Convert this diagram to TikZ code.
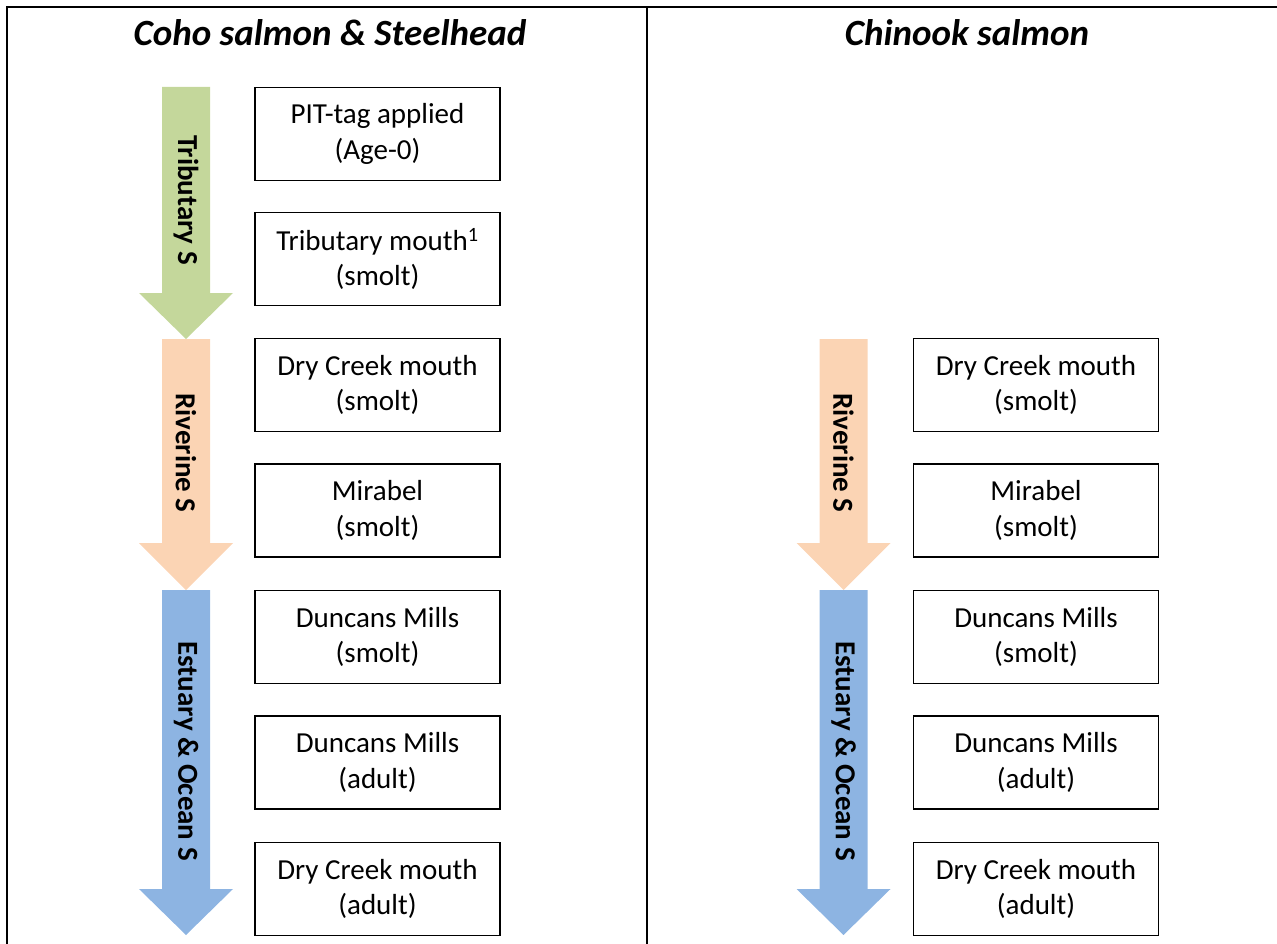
\documentclass[tikz,border=0pt]{standalone}
\usepackage{fontspec}
\setmainfont{Carlito}
\usepackage{tikz}
\usetikzlibrary{calc}

\definecolor{tribgreen}{RGB}{196,215,155}
\definecolor{rivorange}{RGB}{251,212,180}
\definecolor{estblue}{RGB}{141,180,226}

% down arrow: #1 centre x, #2 top, #3 head start, #4 tip, #5 colour
\newcommand{\stagearrow}[5]{%
  \fill[#5] ({#1-24},#2) -- ({#1+24},#2) -- ({#1+24},#3) -- ({#1+47},#3)
    -- (#1,#4) -- ({#1-47},#3) -- ({#1-24},#3) -- cycle;}

\tikzset{
  sitebox/.style={draw, line width=1.3pt, minimum width=245pt, minimum height=93pt,
    align=center, inner sep=2pt, font=\fontsize{29}{35.6}\selectfont},
  stagelabel/.style={rotate=-90, font=\fontsize{29}{35.4}\selectfont\bfseries},
  header/.style={font=\fontsize{37}{44}\selectfont\bfseries\itshape}
}

\begin{document}
\begin{tikzpicture}[x=1pt,y=-1pt]
\useasboundingbox (0,0) rectangle (1277,944);

% frame
\draw[line width=2pt] (1277,7) -- (7,7) -- (7,944);
\draw[line width=2pt] (647,7) -- (647,944);

\node[header] (cohohead) at (330,33) {Coho salmon \& Steelhead};
\node[header] (chinhead) at (967,33) {Chinook salmon};

% Coho salmon & Steelhead
\stagearrow{186}{87}{293}{339}{tribgreen}
\stagearrow{186}{339}{543}{590}{rivorange}
\stagearrow{186}{590}{889}{935}{estblue}
\node[stagelabel] (cohotrib) at (186,200) {Tributary S};
\node[stagelabel] (cohoriv) at (186,453) {Riverine S};
\node[stagelabel] (cohoest) at (186,751) {Estuary \& Ocean S};

\node[sitebox] (cohotag) at (377.5,134) {PIT-tag applied\\(Age-0)};
\node[sitebox] (cohotribm) at (377.5,259) {Tributary mouth\textsuperscript{1}\\(smolt)};
\node[sitebox] (cohodry) at (377.5,385) {Dry Creek mouth\\(smolt)};
\node[sitebox] (cohomir) at (377.5,510.5) {Mirabel\\(smolt)};
\node[sitebox] (cohodunj) at (377.5,637) {Duncans Mills\\(smolt)};
\node[sitebox] (cohoduna) at (377.5,762.5) {Duncans Mills\\(adult)};
\node[sitebox] (cohodrya) at (377.5,889) {Dry Creek mouth\\(adult)};

% Chinook salmon
\stagearrow{843.5}{339}{543}{590}{rivorange}
\stagearrow{843.5}{590}{889}{935}{estblue}
\node[stagelabel] (chinriv) at (843.5,453) {Riverine S};
\node[stagelabel] (chinest) at (843.5,751) {Estuary \& Ocean S};

\node[sitebox] (chindry) at (1036,385) {Dry Creek mouth\\(smolt)};
\node[sitebox] (chinmir) at (1036,510.5) {Mirabel\\(smolt)};
\node[sitebox] (chindunj) at (1036,637) {Duncans Mills\\(smolt)};
\node[sitebox] (chinduna) at (1036,762.5) {Duncans Mills\\(adult)};
\node[sitebox] (chindrya) at (1036,889) {Dry Creek mouth\\(adult)};
\end{tikzpicture}
\end{document}
